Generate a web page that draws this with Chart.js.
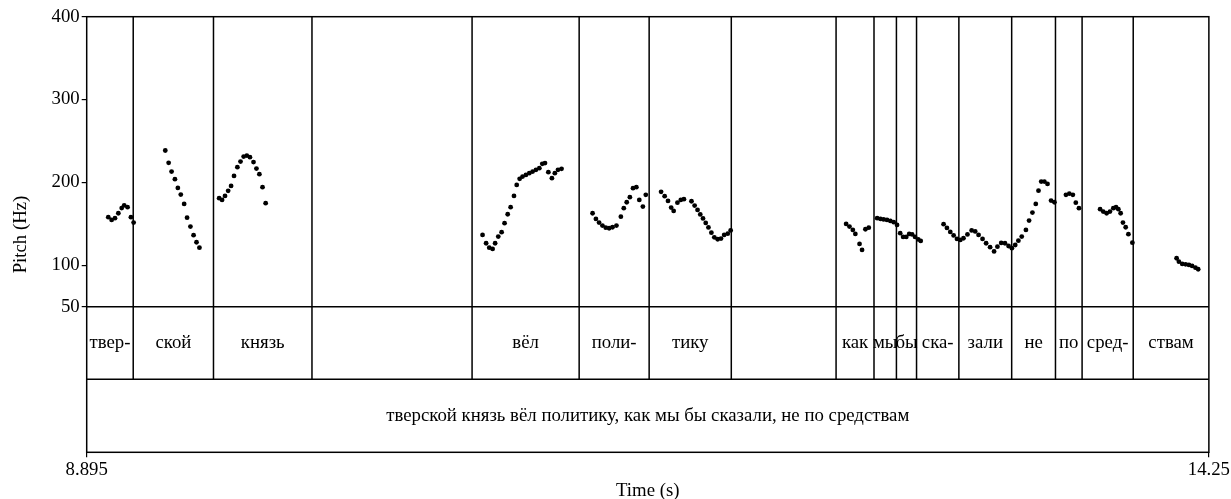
<!DOCTYPE html>
<html>
<head>
<meta charset="utf-8">
<script src="https://cdn.jsdelivr.net/npm/chart.js@4"></script>
<style>
  body { margin: 0; background: #fff; }
  canvas { display: block; }
</style>
</head>
<body>
<canvas id="pitch-chart" width="1231" height="499"></canvas>
<script>
const X_MIN = 8.895;
const X_MAX = 14.25;
const PITCH_MIN = 50;
const PITCH_MAX = 400;
// the two text tiers sit below the pitch range, on the same vertical scale
const WORD_TIER_BOTTOM = -37.6;
const AXIS_BOTTOM = -125.7;

const yTicks = [50, 100, 200, 300, 400];
const xTicks = [8.895, 14.25];

const wordBoundaries = [9.117, 9.500, 9.970, 10.734, 11.245, 11.579, 11.971, 12.471,
    12.652, 12.759, 12.855, 13.057, 13.309, 13.518, 13.645, 13.889];
const wordLabels = ['твер-', 'ской', 'князь', '', 'вёл', 'поли-', 'тику', '', 'как',
    'мы', 'бы', 'ска-', 'зали', 'не', 'по', 'сред-', 'ствам'];
const sentenceText = 'тверской князь вёл политику, как мы бы сказали, не по средствам';

const pitchTime = [
    // твер-
    8.998, 9.014, 9.030, 9.046, 9.062, 9.074, 9.090, 9.106, 9.119,
    // ской
    9.270, 9.286, 9.300, 9.316, 9.330, 9.344, 9.360, 9.374, 9.390, 9.405, 9.419, 9.433,
    // князь
    9.527, 9.541, 9.555, 9.570, 9.584, 9.598, 9.614, 9.629, 9.644, 9.659, 9.674, 9.691,
    9.705, 9.719, 9.734, 9.749,
    // вёл
    10.784, 10.801, 10.816, 10.832, 10.844, 10.859, 10.875, 10.889, 10.904, 10.918, 10.934,
    10.947, 10.961, 10.975, 10.991, 11.007, 11.023, 11.039, 11.055, 11.069, 11.082, 11.098,
    11.115, 11.129, 11.144, 11.161,
    // поли-
    11.309, 11.325, 11.340, 11.356, 11.372, 11.388, 11.404, 11.423, 11.444, 11.458, 11.472,
    11.487, 11.502, 11.518, 11.532, 11.549, 11.563,
    // тику
    11.636, 11.653, 11.669, 11.684, 11.696, 11.714, 11.730, 11.745, 11.781, 11.796, 11.810,
    11.823, 11.836, 11.849, 11.862, 11.876, 11.890, 11.906, 11.922, 11.937, 11.954, 11.968,
    // как
    12.519, 12.535, 12.551, 12.563, 12.583, 12.595, 12.611, 12.627,
    // мы
    12.667, 12.683, 12.698, 12.714, 12.730, 12.746, 12.762,
    // бы
    12.777, 12.791, 12.806, 12.820, 12.834, 12.848, 12.863, 12.875,
    // ска- зали не
    12.984, 13.000, 13.016, 13.032, 13.048, 13.064, 13.079, 13.098, 13.118, 13.135, 13.151,
    13.170, 13.187, 13.206, 13.225, 13.241, 13.259, 13.277, 13.294, 13.310, 13.326, 13.341,
    13.357, 13.377, 13.392, 13.408, 13.424, 13.437, 13.450, 13.465, 13.480, 13.497, 13.513,
    // по
    13.568, 13.584, 13.601, 13.615, 13.630,
    // сред-
    13.731, 13.746, 13.762, 13.778, 13.794, 13.807, 13.818, 13.829, 13.840, 13.853, 13.866, 13.885,
    // ствам
    14.096, 14.107, 14.123, 14.139, 14.155, 14.170, 14.186, 14.199
];

const pitchHz = [
    // твер-
    158, 154.7, 156.8, 162.8, 169, 172.3, 170.1, 158, 151.5,
    // ской
    238.5, 223.6, 213.1, 203.9, 193.4, 185.3, 174.1, 157.5, 146.7, 136.3, 127.8, 121.3,
    // князь
    181, 178.9, 183.7, 189.8, 195.8, 207.9, 218.4, 225.2, 231.2, 232.4, 230.5, 224.5,
    216.7, 210, 194.3, 174.9,
    // вёл
    136.6, 126.6, 121.3, 119.7, 126.6, 134.6, 139.9, 150.8, 161.6, 170.1, 183.7,
    197, 204.3, 207.1, 209.1, 211.2, 213.1, 215.2, 217.2, 222.4, 223.3, 212.4,
    205.1, 211.2, 215.2, 216.4,
    // поли-
    162.8, 156, 151.5, 147.9, 145.4, 144.7, 145.9, 147.9, 158.7, 168.9, 176.1,
    182.2, 193, 194.3, 178.9, 170.8, 185,
    // тику
    188.6, 183.4, 177.7, 169.6, 165.6, 175.6, 178.9, 179.8, 177.3, 172, 166.8,
    161.4, 156.6, 151.1, 145.7, 139.4, 133.8, 131.4, 132.2, 136.6, 138.2, 142.1,
    // как
    149.9, 146.7, 142.7, 137.8, 125.8, 118.5, 143.5, 145.4,
    // мы
    156.8, 156, 155.4, 154.7, 153.5, 152, 148.7,
    // бы
    138.7, 134.2, 134.2, 137.8, 137.2, 134.2, 131.2, 129.4,
    // ска- зали не
    149.6, 145.1, 140.3, 136, 131.8, 130.6, 132.6, 137.2, 142.1, 140.9, 136.6,
    131.8, 126.6, 121.8, 116.7, 122.5, 127, 126.6, 123.3, 120.6, 124.5, 129.7,
    134.6, 142.7, 153.9, 163.6, 174.1, 190.1, 201, 201, 198.2, 178.1, 176.1,
    // по
    185, 186.4, 185, 175.6, 168.9,
    // сред-
    167.7, 164.8, 162.8, 164.8, 168.9, 170.1, 167.7, 162.8, 151.5, 145.9, 137.5, 127.3,
    // ствам
    108.5, 104.4, 101.6, 101.2, 100.4, 99.2, 97.1, 95.2
];

const FONT_FAMILY = '"Liberation Serif", "Times New Roman", serif';
const FONT_SIZE = 18.8;
Chart.defaults.font.family = FONT_FAMILY;
Chart.defaults.font.size = FONT_SIZE;
Chart.defaults.color = '#000';

const tierPlugin = {
    id: 'tiers',
    beforeDatasetsDraw(chart) {
        const { ctx, chartArea: a, scales: { x, y } } = chart;
        const yTier = y.getPixelForValue(PITCH_MIN);
        const yWord = y.getPixelForValue(WORD_TIER_BOTTOM);

        ctx.save();
        ctx.strokeStyle = '#000';
        ctx.lineWidth = 1.5;
        ctx.strokeRect(a.left, a.top, a.right - a.left, a.bottom - a.top);

        ctx.beginPath();
        [yTier, yWord].forEach(py => {
            ctx.moveTo(a.left, py);
            ctx.lineTo(a.right, py);
        });
        wordBoundaries.forEach(t => {
            const px = x.getPixelForValue(t);
            ctx.moveTo(px, a.top);
            ctx.lineTo(px, yWord);
        });
        ctx.stroke();

        ctx.fillStyle = '#000';
        ctx.font = `${FONT_SIZE}px ${FONT_FAMILY}`;
        ctx.textAlign = 'center';
        ctx.textBaseline = 'middle';
        const edges = [X_MIN, ...wordBoundaries, X_MAX];
        wordLabels.forEach((w, i) => {
            if (!w) return;
            const mid = (edges[i] + edges[i + 1]) / 2;
            ctx.fillText(w, x.getPixelForValue(mid), (yTier + yWord) / 2);
        });
        ctx.fillText(sentenceText, x.getPixelForValue((X_MIN + X_MAX) / 2), (yWord + a.bottom) / 2);
        ctx.restore();
    }
};

const ctx = document.getElementById('pitch-chart').getContext('2d');
new Chart(ctx, {
    type: 'scatter',
    data: {
        datasets: [{
            label: 'Pitch',
            data: pitchTime.map((t, i) => ({ x: t, y: pitchHz[i] })),
            backgroundColor: '#000',
            borderColor: '#000',
            pointRadius: 2.4,
            borderWidth: 0,
            showLine: false
        }]
    },
    options: {
        responsive: false,
        animation: false,
        devicePixelRatio: 1,
        layout: { padding: { top: 16.7, right: 20.3, bottom: 0, left: 0 } },
        plugins: {
            legend: { display: false },
            tooltip: { enabled: false }
        },
        scales: {
            x: {
                type: 'linear',
                min: X_MIN,
                max: X_MAX,
                afterBuildTicks: s => { s.ticks = xTicks.map(v => ({ value: v })); },
                afterFit: s => { s.height = 46.7; },
                ticks: { callback: v => String(v), padding: 1, maxRotation: 0, autoSkip: false },
                grid: { drawOnChartArea: false, drawTicks: true, tickLength: 5, color: '#000', lineWidth: 1.2 },
                border: { display: false },
                title: { display: true, text: 'Time (s)', padding: { top: 0, bottom: 0 }, font: { lineHeight: 0.85 } }
            },
            y: {
                type: 'linear',
                min: AXIS_BOTTOM,
                max: PITCH_MAX,
                afterBuildTicks: s => { s.ticks = yTicks.map(v => ({ value: v })); },
                afterFit: s => { s.width = 86.7; },
                ticks: { callback: v => String(v), padding: 2, autoSkip: false },
                grid: { drawOnChartArea: false, drawTicks: true, tickLength: 5, color: '#000', lineWidth: 1.2 },
                border: { display: false },
                title: { display: true, text: 'Pitch (Hz)', padding: { top: 10, bottom: 0 } }
            }
        }
    },
    plugins: [tierPlugin]
});
</script>
</body>
</html>
